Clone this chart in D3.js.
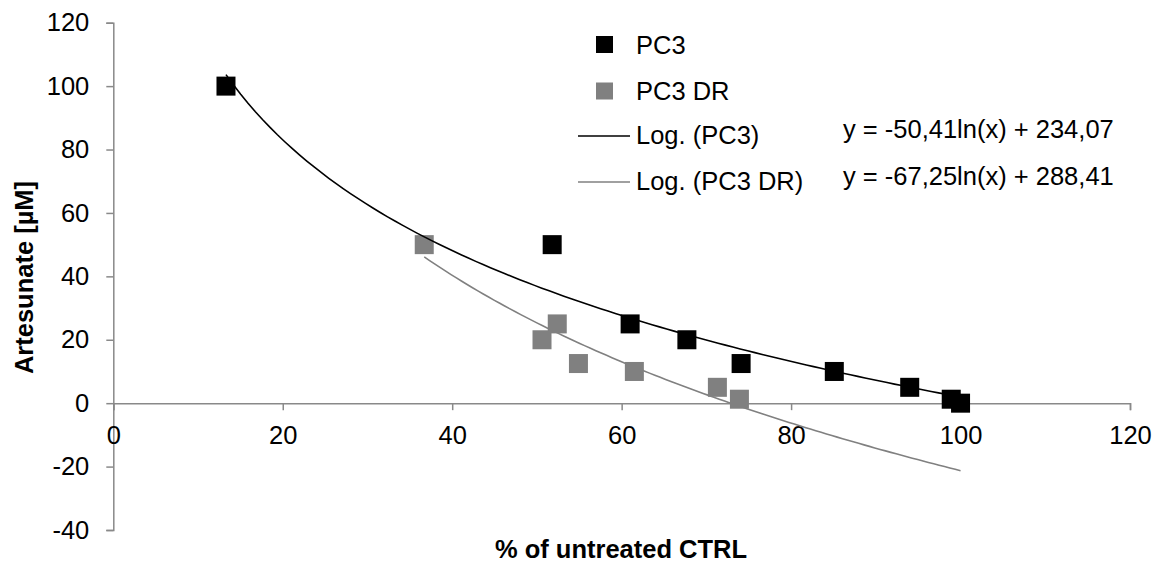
<!DOCTYPE html>
<html>
<head>
<meta charset="utf-8">
<script src="https://cdn.jsdelivr.net/npm/d3@7"></script>
<style>
  body { margin: 0; background: #fff; }
  text { font-family: "Liberation Sans", Arial, sans-serif; }
</style>
</head>
<body>
<div id="chart"></div>
<script>
// data
const pc3X = [13.3, 51.8, 61.0, 67.7, 74.1, 85.1, 94.0, 98.9, 100.0]
const pc3Y = [100, 50, 25, 20, 12.5, 10, 5, 1.25, 0]
const drX = [36.7, 50.6, 52.4, 54.9, 61.5, 71.3, 73.9]
const drY = [50, 20, 25, 12.5, 10, 5, 1.25]
// log trendline coefficients: y = a*ln(x) + b, and the x span each line covers
const pc3Fit = [-50.41, 234.07]
const drFit = [-67.25, 288.41]
const pc3FitRange = [13.3, 100]
const drFitRange = [36.7, 100]
const xTicks = [0, 20, 40, 60, 80, 100, 120]
const yTicks = [-40, -20, 0, 20, 40, 60, 80, 100, 120]
const seriesNames = ["PC3", "PC3 DR", "Log. (PC3)", "Log. (PC3 DR)"]
const equations = ["y = -50,41ln(x) + 234,07", "y = -67,25ln(x) + 288,41"]

const W = 1162, H = 563
const MARGIN = { TOP: 22.7, LEFT: 113.3, RIGHT: 32, BOTTOM: 33 }
const AXIS = "#898989"
const GREY = "#808080"
const FS = 25.5

const svg = d3.select("#chart").append("svg")
    .attr("width", W)
    .attr("height", H)

const x = d3.scaleLinear().domain([0, 120]).range([MARGIN.LEFT, 1130])
const y = d3.scaleLinear().domain([-40, 120]).range([530, MARGIN.TOP])

// y axis
const yAxis = svg.append("g")
    .attr("transform", `translate(${x(0)},0)`)
    .call(d3.axisLeft(y).tickValues(yTicks).tickFormat(d => String(d)).tickSize(7).tickPadding(17))
yAxis.select(".domain").attr("stroke", AXIS).attr("stroke-width", 1.5)
yAxis.selectAll(".tick line").attr("stroke", AXIS).attr("stroke-width", 1.5)
yAxis.selectAll(".tick text")
    .attr("font-size", FS)
    .attr("font-family", "Liberation Sans, Arial, sans-serif")
    .attr("fill", "#000")

// x axis crosses at y = 0
const xAxis = svg.append("g")
    .attr("transform", `translate(0,${y(0)})`)
    .call(d3.axisBottom(x).tickValues(xTicks).tickFormat(d => String(d)).tickSize(7).tickPadding(16))
xAxis.select(".domain").attr("stroke", AXIS).attr("stroke-width", 1.5)
xAxis.selectAll(".tick line").attr("stroke", AXIS).attr("stroke-width", 1.5)
xAxis.selectAll(".tick text")
    .attr("font-size", FS)
    .attr("font-family", "Liberation Sans, Arial, sans-serif")
    .attr("fill", "#000")

// axis titles
svg.append("text")
    .attr("x", 621).attr("y", 558)
    .attr("text-anchor", "middle")
    .attr("font-size", FS).attr("font-weight", "bold")
    .text("% of untreated CTRL")

svg.append("text")
    .attr("transform", "translate(33,277.5) rotate(-90)")
    .attr("text-anchor", "middle")
    .attr("font-size", FS).attr("font-weight", "bold")
    .text("Artesunate [µM]")

// markers
const SQ = 19
function squares(xs, ys, color) {
    svg.append("g").selectAll("rect")
        .data(xs.map((d, i) => ({ x: d, y: ys[i] })))
        .enter().append("rect")
        .attr("x", d => x(d.x) - SQ / 2)
        .attr("y", d => y(d.y) - SQ / 2)
        .attr("width", SQ)
        .attr("height", SQ)
        .attr("fill", color)
}
squares(pc3X, pc3Y, "#000")
squares(drX, drY, GREY)

// trendlines
const line = d3.line().x(d => x(d[0])).y(d => y(d[1]))
function trend(range, fit, color) {
    const [lo, hi] = range
    const pts = d3.range(0, 101).map(i => {
        const xv = lo + (hi - lo) * i / 100
        return [xv, fit[0] * Math.log(xv) + fit[1]]
    })
    svg.append("path")
        .attr("d", line(pts))
        .attr("fill", "none")
        .attr("stroke", color)
        .attr("stroke-width", 1.6)
}
trend(pc3FitRange, pc3Fit, "#000")
trend(drFitRange, drFit, GREY)

// legend
const LX = 636
const leg = svg.append("g")
leg.append("rect").attr("x", 596).attr("y", 36).attr("width", 17).attr("height", 17).attr("fill", "#000")
leg.append("rect").attr("x", 596).attr("y", 82.5).attr("width", 17).attr("height", 17).attr("fill", GREY)
leg.append("line").attr("x1", 578).attr("x2", 630).attr("y1", 136).attr("y2", 136)
    .attr("stroke", "#000").attr("stroke-width", 1.6)
leg.append("line").attr("x1", 578).attr("x2", 630).attr("y1", 182).attr("y2", 182)
    .attr("stroke", GREY).attr("stroke-width", 1.6)
const legY = [54, 100, 144, 190]
leg.selectAll("text.lbl")
    .data(seriesNames)
    .enter().append("text")
    .attr("class", "lbl")
    .attr("x", LX)
    .attr("y", (d, i) => legY[i])
    .attr("font-size", FS)
    .text(d => d)

// equations
const eqY = [138, 185]
svg.selectAll("text.eq")
    .data(equations)
    .enter().append("text")
    .attr("class", "eq")
    .attr("x", 843)
    .attr("y", (d, i) => eqY[i])
    .attr("font-size", FS)
    .text(d => d)
</script>
</body>
</html>
